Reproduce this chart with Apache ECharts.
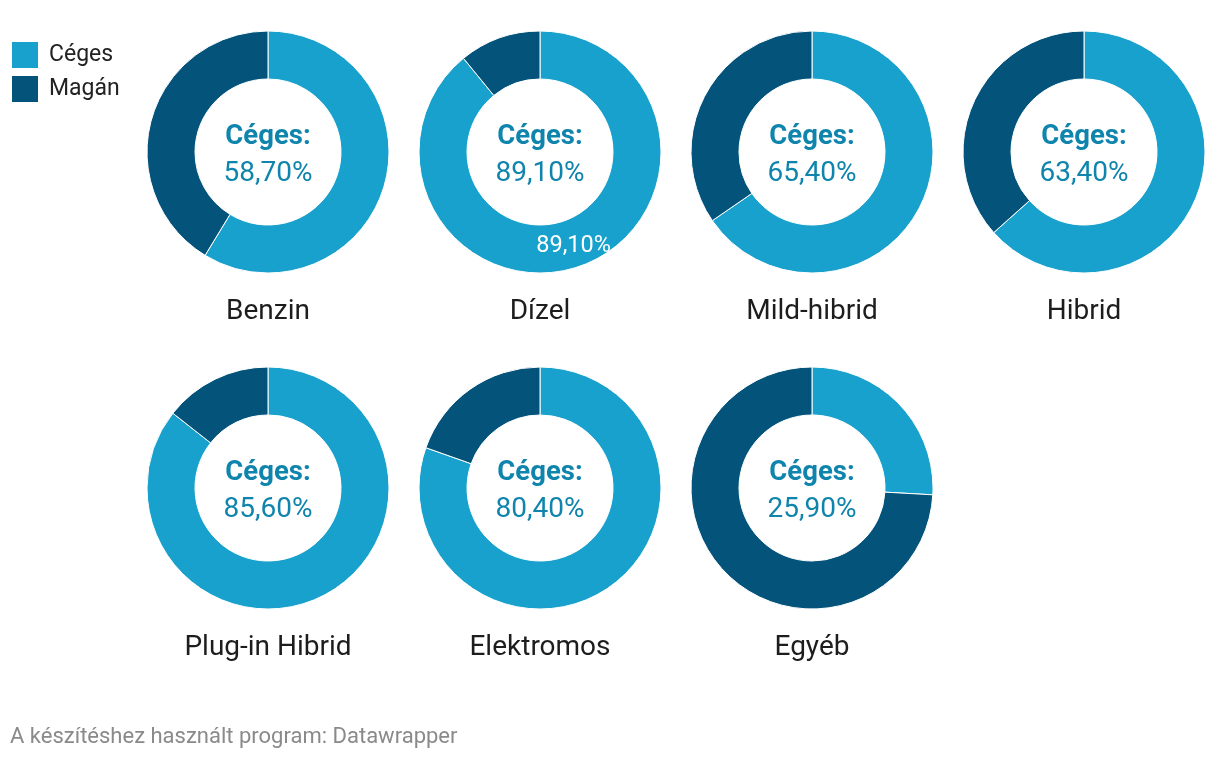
<!DOCTYPE html>
<html><head><meta charset="utf-8">
<script src="https://cdn.jsdelivr.net/npm/echarts@6/dist/echarts.min.js"></script>
<style>html,body{margin:0;padding:0;background:#fff}#c{width:1220px;height:758px}</style>
</head><body><div id="c"></div>
<script>
const categories = ['Benzin','Dízel','Mild-hibrid','Hibrid','Plug-in Hibrid','Elektromos','Egyéb'];
const cegesValues = [58.7, 89.1, 65.4, 63.4, 85.6, 80.4, 25.9];
const maganValues = [41.3, 10.9, 34.6, 36.6, 14.4, 19.6, 74.1];
const seriesNames = ['Céges','Magán'];
const colors = ['#18a1cd','#04537b'];

const centers = [[268,152],[540,152],[812,152],[1084,152],[268,488],[540,488],[812,488]];
const fmt = v => v.toFixed(2).replace('.', ',') + '%';
const font = 'Roboto, "Noto Sans", sans-serif';
const textBlue = '#0f84ad';

const series = [];
const titles = [];
categories.forEach((cat, i) => {
  const c = centers[i];
  series.push({
    type: 'pie', name: cat,
    center: c, radius: [73, 121],
    startAngle: 90, clockwise: true,
    silent: true, animation: false,
    itemStyle: { borderColor: '#fff', borderWidth: 1 },
    label: { show: false },
    labelLine: { show: false },
    data: [
      { name: seriesNames[0], value: cegesValues[i], itemStyle: { color: colors[0] },
        label: i === 1 ? { show: true, position: 'inside', formatter: p => fmt(p.value), color: '#fff', fontSize: 23.5, fontFamily: font } : { show: false } },
      { name: seriesNames[1], value: maganValues[i], itemStyle: { color: colors[1] } }
    ]
  });
  titles.push({
    text: '{b|Céges:}\n{n|' + fmt(cegesValues[i]) + '}',
    left: c[0], top: c[1] - 33.5, textAlign: 'center', padding: 0,
    textStyle: { fontFamily: font, fontWeight: 'normal', fontSize: 28, lineHeight: 37, color: textBlue, rich: {
      b: { fontFamily: font, fontWeight: 'bold', fontSize: 27.5, color: textBlue, lineHeight: 37, align: 'center' },
      n: { fontFamily: font, fontWeight: 'normal', fontSize: 28, color: textBlue, lineHeight: 37, align: 'center' }
    } }
  });
  titles.push({
    text: cat, left: c[0], top: c[1] + 144, textAlign: 'center', padding: 0,
    textStyle: { fontFamily: font, fontWeight: 'normal', fontSize: 28, lineHeight: 32, color: '#1d1d1d' }
  });
});
titles.push({
  text: 'A készítéshez használt program: Datawrapper', left: 10, top: 724, padding: 0,
  textStyle: { fontFamily: font, fontWeight: 'normal', fontSize: 22, lineHeight: 26, color: '#8a8a8a' }
});

const chart = echarts.init(document.getElementById('c'), null, { renderer: 'canvas' });
chart.setOption({
  animation: false,
  title: titles,
  legend: {
    orient: 'vertical', left: 10, top: 40, padding: 0,
    itemWidth: 28, itemHeight: 28, itemGap: 4,
    icon: 'rect', selectedMode: false,
    data: seriesNames,
    textStyle: { fontFamily: font, fontSize: 23, color: '#222', padding: [0,0,0,5] }
  },
  color: colors,
  series: series
});
</script></body></html>
